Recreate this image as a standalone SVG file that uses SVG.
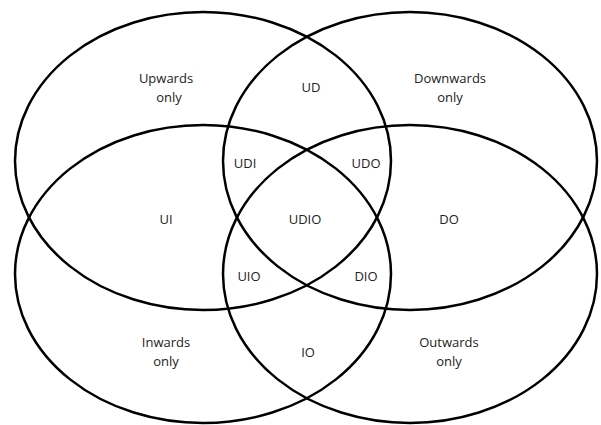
<svg xmlns="http://www.w3.org/2000/svg" width="601" height="425" viewBox="0 0 601 425">
<style>
.set{fill:none;stroke:#000;stroke-width:2.5}
text{font-family:"Open Sans","Liberation Sans",sans-serif;font-size:13px;fill:#222;text-anchor:middle;dominant-baseline:central}
</style>
<rect width="601" height="425" fill="#fff"/>
<g id="connectors"></g>
<g id="upwards"><ellipse class="set" cx="203" cy="161" rx="188" ry="149"/></g>
<g id="downwards"><ellipse class="set" cx="410" cy="161" rx="187" ry="149"/></g>
<g id="inwards"><ellipse class="set" cx="203" cy="274" rx="188" ry="149"/></g>
<g id="outwards"><ellipse class="set" cx="410" cy="274" rx="187" ry="149"/></g>
<g id="labels">
<text x="166" y="78">Upwards</text><text x="169" y="97">only</text>
<text x="311" y="87">UD</text>
<text x="450" y="78">Downwards</text><text x="450" y="97">only</text>
<text x="245" y="163">UDI</text>
<text x="366" y="163">UDO</text>
<text x="166" y="219">UI</text>
<text x="305" y="219">UDIO</text>
<text x="449" y="219">DO</text>
<text x="249" y="276">UIO</text>
<text x="366" y="276">DIO</text>
<text x="166" y="342">Inwards</text><text x="166" y="361">only</text>
<text x="308" y="352">IO</text>
<text x="449" y="342">Outwards</text><text x="449" y="361">only</text>
</g>
</svg>
